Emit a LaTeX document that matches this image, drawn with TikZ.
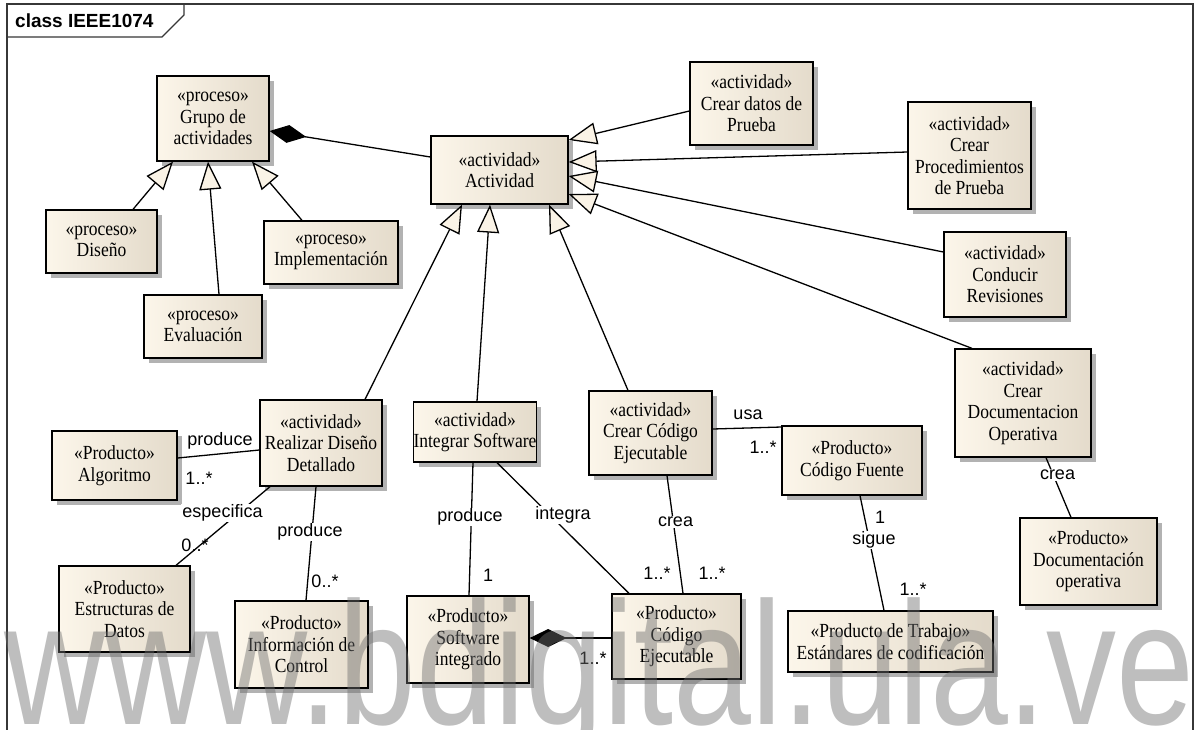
\documentclass[tikz,border=0pt]{standalone}
\usepackage{fontspec}
\usepackage{graphicx}
\setmainfont{Liberation Serif}[FakeStretch=0.875]
\newfontfamily\lsans{Liberation Sans}
\usetikzlibrary{arrows.meta,calc,shadows}

\definecolor{boxL}{RGB}{252,246,234}
\definecolor{boxR}{RGB}{228,219,203}
\definecolor{tipfill}{RGB}{250,243,230}
\definecolor{wmgray}{RGB}{111,111,111}
\definecolor{framec}{RGB}{55,55,55}

\tikzset{
  box/.style={draw=black, line width=1.3pt, left color=boxL, right color=boxR,
    inner sep=0pt, align=center,
    font=\fontsize{20}{21.5}\selectfont,
    drop shadow={shadow xshift=5pt, shadow yshift=-5pt, fill=black!30, opacity=1}},
  conn/.style={draw=black, line width=1.3pt},
  gen/.style={conn, -{Triangle[length=28pt, width=22pt, fill=tipfill]}},
  comp/.style={conn, -{Diamond[length=37pt, width=18pt, fill=black]}},
  lab/.style={font=\lsans\fontsize{18}{18}\selectfont, inner sep=1pt},
  labw/.style={lab, fill=white},
}

\begin{document}
\begin{tikzpicture}[x=1pt, y=-1pt]
\useasboundingbox (0,0) rectangle (1199,729);
\fill[white] (0,0) rectangle (1199,729);

% diagram frame and its title tab
\draw[framec, line width=1.6pt] (7,740) -- (7,4) -- (1193,4) -- (1193,740);
\draw[framec, line width=1.3pt] (7,37) -- (162,37) -- (184,15) -- (184,4);
\node[anchor=west, font=\lsans\bfseries\fontsize{19}{19}\selectfont, inner sep=0pt] (title) at (15,21) {class IEEE1074};

% processes
\node[box, minimum width=112pt, minimum height=85pt] (grupo) at (213,118.5) {«proceso»\\Grupo de\\actividades};
\node[box, minimum width=111pt, minimum height=63pt] (diseno) at (101.5,241.5) {«proceso»\\Diseño};
\node[box, minimum width=134pt, minimum height=63pt] (impl) at (331,252.5) {«proceso»\\Implementación};
\node[box, minimum width=118pt, minimum height=63pt] (eval) at (203,326.5) {«proceso»\\Evaluación};

% activities
\node[box, minimum width=137pt, minimum height=68pt] (act) at (499.5,170) {«actividad»\\Actividad};
\node[box, minimum width=123pt, minimum height=83pt] (datos) at (751.5,103.5) {«actividad»\\Crear datos de\\Prueba};
\node[box, minimum width=123pt, minimum height=107pt] (proc) at (969.5,155.5) {«actividad»\\Crear\\Procedimientos\\de Prueba};
\node[box, minimum width=122pt, minimum height=85pt] (rev) at (1005,274.5) {«actividad»\\Conducir\\Revisiones};
\node[box, minimum width=136pt, minimum height=108pt] (doc) at (1023,403) {«actividad»\\Crear\\Documentacion\\Operativa};
\node[box, minimum width=122pt, minimum height=86pt] (realizar) at (321,443) {«actividad»\\Realizar Diseño\\Detallado};
\node[box, minimum width=122pt, minimum height=60pt] (integrar) at (475,432) {«actividad»\\Integrar Software};
\node[box, minimum width=123pt, minimum height=84pt] (crearcod) at (650.5,433) {«actividad»\\Crear Código\\Ejecutable};

% products
\node[box, minimum width=140pt, minimum height=69pt] (fuente) at (852,460.5) {«Producto»\\Código Fuente};
\node[box, minimum width=137pt, minimum height=87pt] (docop) at (1088.5,561.5) {«Producto»\\Documentación\\operativa};
\node[box, minimum width=205pt, minimum height=61pt] (estand) at (890.5,641.5) {«Producto de Trabajo»\\Estándares de codificación};
\node[box, minimum width=125pt, minimum height=69pt] (algo) at (114.5,465.5) {«Producto»\\Algoritmo};
\node[box, minimum width=131pt, minimum height=86pt] (estruct) at (124.5,609) {«Producto»\\Estructuras de\\Datos};
\node[box, minimum width=133pt, minimum height=87pt] (info) at (301.5,644.5) {«Producto»\\Información de\\Control};
\node[box, minimum width=122pt, minimum height=87pt] (softint) at (468,639.5) {«Producto»\\Software\\integrado};
\node[box, minimum width=129pt, minimum height=85pt] (codeje) at (676.5,636.5) {«Producto»\\Código\\Ejecutable};

% generalizations
\draw[gen] ($(diseno.north)+(31.5,0)$) -- ($(grupo.south)+(-40,0)$);
\draw[gen] ($(eval.north)+(16,0)$) -- ($(grupo.south)+(-5,0)$);
\draw[gen] ($(impl.north)+(-29,0)$) -- ($(grupo.south)+(39,0)$);
\draw[gen] ($(datos.west)+(0,7.5)$) -- ($(act.east)+(0,-30)$);
\draw[gen] ($(proc.west)+(0,-3.5)$) -- ($(act.east)+(0,-8)$);
\draw[gen] ($(rev.west)+(0,-22.5)$) -- ($(act.east)+(0,6)$);
\draw[gen] ($(doc.north)+(-51,0)$) -- ($(act.east)+(0,24)$);
\draw[gen] ($(realizar.north)+(44,0)$) -- ($(act.south)+(-37.5,0)$);
\draw[gen] ($(integrar.north)+(2,0)$) -- ($(act.south)+(-9.5,0)$);
\draw[gen] ($(crearcod.north)+(-22.5,0)$) -- ($(act.south)+(49.5,0)$);

% compositions
\draw[comp] ($(act.west)+(0,-13)$) -- ($(grupo.east)+(0,12.5)$);
\draw[comp] ($(codeje.west)+(0,1.5)$) -- ($(softint.east)+(0,-1.5)$);

% associations
\draw[conn] ($(algo.east)+(0,-7.5)$) -- ($(realizar.west)+(0,7)$);
\draw[conn] ($(realizar.south)+(-51,0)$) -- ($(estruct.north)+(51.5,0)$);
\draw[conn] ($(realizar.south)+(-5,0)$) -- ($(info.north)+(4.5,0)$);
\draw[conn] ($(integrar.south)+(-2,0)$) -- ($(softint.north)+(1,0)$);
\draw[conn] ($(integrar.south)+(22,0)$) -- ($(codeje.north)+(-47.5,0)$);
\draw[conn] ($(crearcod.south)+(16.5,0)$) -- ($(codeje.north)+(6.5,0)$);
\draw[conn] ($(crearcod.east)+(0,-4)$) -- ($(fuente.west)+(0,-33.5)$);
\draw[conn] ($(fuente.south)+(8,0)$) -- ($(estand.north)+(-6.5,0)$);
\draw[conn] ($(doc.south)+(23,0)$) -- ($(docop.north)+(-17.5,0)$);

% association names and multiplicities
\node[lab] (l1) at (220,441) {produce};
\node[lab] (l2) at (199,478) {1..*};
\node[labw] (l3) at (222.5,513) {especifica};
\node[lab] (l4) at (195,545) {0..*};
\node[labw] (l5) at (310,532) {produce};
\node[lab] (l6) at (325,581) {0..*};
\node[labw] (l7) at (470,517) {produce};
\node[lab] (l8) at (488,575) {1};
\node[labw] (l9) at (563,515) {integra};
\node[labw] (l10) at (675.5,522) {crea};
\node[lab] (l11) at (657,573) {1..*};
\node[lab] (l12) at (712,573) {1..*};
\node[lab] (l13) at (593,658) {1..*};
\node[lab] (l14) at (748,415) {usa};
\node[lab] (l15) at (763,447) {1..*};
\node[lab] (l16) at (880,517) {1};
\node[labw] (l17) at (874,540) {sigue};
\node[lab] (l18) at (913,589) {1..*};
\node[labw] (l19) at (1057.5,475) {crea};

% watermark
\node[anchor=base west, inner sep=0pt, text=wmgray, opacity=0.45,
      font=\lsans\fontsize{175}{175}\selectfont] (wm) at (4,724)
      {\scalebox{0.80}[1]{www.bdigital.ula.ve}};
\end{tikzpicture}
\end{document}
